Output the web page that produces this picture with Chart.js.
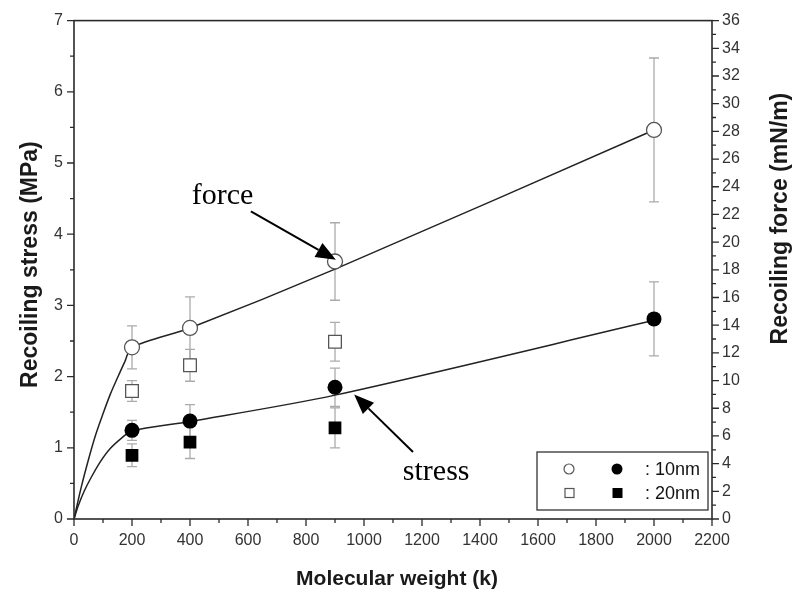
<!DOCTYPE html>
<html>
<head>
<meta charset="utf-8">
<script src="https://cdn.jsdelivr.net/npm/chart.js@4/dist/chart.umd.min.js"></script>
<style>
html,body{margin:0;padding:0;background:#fff;}
#wrap{width:799px;height:594px;position:relative;}
</style>
</head>
<body>
<div id="wrap"><canvas id="c" width="799" height="594"></canvas></div>
<script>
// ---- data ----
const molecularWeight = [200, 400, 900, 2000];          // k
const molecularWeight20 = [200, 400, 900];

// force (mN/m, right axis)
const force10 = [12.4, 13.8, 18.6, 28.1];
const force10Err = [1.55, 2.25, 2.8, 5.2];
const force20 = [9.25, 11.1, 12.8];
const force20Err = [0.75, 1.15, 1.4];

// stress (MPa, left axis)
const stress10 = [1.245, 1.375, 1.85, 2.81];
const stress10Err = [0.14, 0.23, 0.27, 0.52];
const stress20 = [0.895, 1.08, 1.28];
const stress20Err = [0.16, 0.23, 0.28];

// fitted curves
const forceFitX = [0, 25, 50, 75, 100, 125, 150, 175, 200, 400, 900, 2000];
const forceFitY = [0, 2.3, 4.3, 6.1, 7.6, 9.0, 10.2, 11.35, 12.4, 13.8, 18.05, 28.1];
const stressFitX = [0, 15, 35, 60, 90, 125, 165, 200, 400, 900, 2000];
const stressFitY = [0, 0.19, 0.39, 0.59, 0.8, 0.99, 1.14, 1.24, 1.37, 1.74, 2.79];

// axis ticks
const xMax = 2200, xMajor = 200, xMinor = 100;
const yMax = 7, yMajor = 1, yMinor = 0.5;
const y2Max = 36, y2Major = 2, y2Minor = 1;

const xTitle = 'Molecular weight (k)';
const yTitle = 'Recoiling stress (MPa)';
const y2Title = 'Recoiling force (mN/m)';
const legendLabels = [': 10nm', ': 20nm'];
const annotations = [
  {text: 'force', x: 406, y: 4.42, ax0: 610, ay0: 4.32, ax1: 903, ay1: 3.64},
  {text: 'stress', x: 1134, y: 0.545, ax0: 1169, ay0: 0.94, ax1: 966, ay1: 1.75}
];

const pts = (xs, ys) => xs.map((x, i) => ({x: x, y: ys[i]}));

const OPEN_COL = '#555';
const ERR_COL = '#ababab';
const AXIS_COL = '#2a2a2a';

const errPlugin = {
  id: 'errbars',
  beforeDatasetsDraw(chart) {
    const ctx = chart.ctx;
    ctx.save();
    ctx.strokeStyle = ERR_COL;
    ctx.lineWidth = 1.3;
    chart.data.datasets.forEach((ds) => {
      if (!ds.err) return;
      const xs = chart.scales.x;
      const ys = chart.scales[ds.yAxisID];
      ds.data.forEach((p, i) => {
        const e = ds.err[i];
        const px = xs.getPixelForValue(p.x);
        const t = ys.getPixelForValue(p.y + e);
        const b = ys.getPixelForValue(p.y - e);
        ctx.beginPath();
        ctx.moveTo(px, t); ctx.lineTo(px, b);
        ctx.moveTo(px - 5, t); ctx.lineTo(px + 5, t);
        ctx.moveTo(px - 5, b); ctx.lineTo(px + 5, b);
        ctx.stroke();
      });
    });
    ctx.restore();
  }
};

function arrow(ctx, x0, y0, x1, y1) {
  const ang = Math.atan2(y1 - y0, x1 - x0);
  const L = 20, W = 8;
  const bx = x1 - L * Math.cos(ang), by = y1 - L * Math.sin(ang);
  ctx.beginPath();
  ctx.moveTo(x0, y0); ctx.lineTo(bx, by);
  ctx.stroke();
  ctx.beginPath();
  ctx.moveTo(x1, y1);
  ctx.lineTo(bx + W * Math.sin(ang), by - W * Math.cos(ang));
  ctx.lineTo(bx - W * Math.sin(ang), by + W * Math.cos(ang));
  ctx.closePath();
  ctx.fill();
}

const decoPlugin = {
  id: 'deco',
  afterDraw(chart) {
    const ctx = chart.ctx;
    const a = chart.chartArea;
    const xs = chart.scales.x, ys = chart.scales.y, y2 = chart.scales.y2;
    ctx.save();
    // frame
    ctx.strokeStyle = AXIS_COL;
    ctx.lineWidth = 1.6;
    ctx.strokeRect(a.left, a.top, a.right - a.left, a.bottom - a.top);
    // ticks
    ctx.lineWidth = 1.3;
    ctx.beginPath();
    for (let v = 0; v <= xMax + 1e-9; v += xMinor) {
      const px = xs.getPixelForValue(v);
      const len = (Math.abs(v / xMajor - Math.round(v / xMajor)) < 1e-6) ? 7 : 4;
      ctx.moveTo(px, a.bottom); ctx.lineTo(px, a.bottom + len);
    }
    for (let v = 0; v <= yMax + 1e-9; v += yMinor) {
      const py = ys.getPixelForValue(v);
      const len = (Math.abs(v / yMajor - Math.round(v / yMajor)) < 1e-6) ? 7 : 4;
      ctx.moveTo(a.left, py); ctx.lineTo(a.left - len, py);
    }
    for (let v = 0; v <= y2Max + 1e-9; v += y2Minor) {
      const py = y2.getPixelForValue(v);
      const len = (Math.abs(v / y2Major - Math.round(v / y2Major)) < 1e-6) ? 7 : 4;
      ctx.moveTo(a.right, py); ctx.lineTo(a.right + len, py);
    }
    ctx.stroke();

    // axis titles
    ctx.fillStyle = '#1a1a1a';
    ctx.font = 'bold 21px "Liberation Sans", Arial, sans-serif';
    ctx.textAlign = 'center';
    ctx.textBaseline = 'middle';
    ctx.fillText(xTitle, (a.left + a.right) / 2 + 4, a.bottom + 60);
    ctx.font = 'bold 23px "Liberation Sans", Arial, sans-serif';
    ctx.save();
    ctx.translate(a.left - 43, a.top + 244);
    ctx.rotate(-Math.PI / 2);
    ctx.fillText(yTitle, 0, 0);
    ctx.restore();
    ctx.save();
    ctx.translate(a.right + 69, a.top + 198);
    ctx.rotate(-Math.PI / 2);
    ctx.fillText(y2Title, 0, 0);
    ctx.restore();

    // annotations
    ctx.fillStyle = '#000';
    ctx.strokeStyle = '#000';
    ctx.lineWidth = 2;
    ctx.font = '30px "Liberation Serif", "Times New Roman", serif';
    ctx.textAlign = 'left';
    ctx.textBaseline = 'alphabetic';
    annotations.forEach(an => {
      ctx.fillText(an.text, xs.getPixelForValue(an.x), ys.getPixelForValue(an.y));
      arrow(ctx, xs.getPixelForValue(an.ax0), ys.getPixelForValue(an.ay0),
                 xs.getPixelForValue(an.ax1), ys.getPixelForValue(an.ay1));
    });

    // legend box
    const bw = 171, bh = 58;
    const bx = a.right - 4 - bw, by = a.bottom - 9 - bh;
    ctx.fillStyle = '#fff';
    ctx.fillRect(bx, by, bw, bh);
    ctx.strokeStyle = '#333';
    ctx.lineWidth = 1.3;
    ctx.strokeRect(bx, by, bw, bh);
    const r1 = by + 17, r2 = by + 41;
    ctx.strokeStyle = OPEN_COL; ctx.lineWidth = 1.2;
    ctx.beginPath(); ctx.arc(bx + 32, r1, 5, 0, Math.PI * 2); ctx.stroke();
    ctx.fillStyle = '#000';
    ctx.beginPath(); ctx.arc(bx + 80, r1, 5.5, 0, Math.PI * 2); ctx.fill();
    ctx.strokeRect(bx + 28, r2 - 4.5, 9, 9);
    ctx.fillRect(bx + 75.5, r2 - 5, 10, 10);
    ctx.fillStyle = '#111';
    ctx.font = '18px "Liberation Sans", Arial, sans-serif';
    ctx.textBaseline = 'middle';
    ctx.fillText(legendLabels[0], bx + 108, r1 + 1);
    ctx.fillText(legendLabels[1], bx + 108, r2 + 1);
    ctx.restore();
  }
};

const tickFont = {family: '"Liberation Sans", Arial, sans-serif', size: 16};

new Chart(document.getElementById('c'), {
  type: 'scatter',
  data: {
    datasets: [
      {label: 'force 10nm', data: pts(molecularWeight, force10), err: force10Err, yAxisID: 'y2',
       pointStyle: 'circle', pointRadius: 7.5, borderColor: OPEN_COL, backgroundColor: '#fff', borderWidth: 1.3, order: 1},
      {label: 'force 20nm', data: pts(molecularWeight20, force20), err: force20Err, yAxisID: 'y2',
       pointStyle: 'rect', pointRadius: 9, borderColor: OPEN_COL, backgroundColor: '#fff', borderWidth: 1.3, order: 1},
      {label: 'stress 10nm', data: pts(molecularWeight, stress10), err: stress10Err, yAxisID: 'y',
       pointStyle: 'circle', pointRadius: 7.5, borderColor: '#000', backgroundColor: '#000', borderWidth: 0, order: 1},
      {label: 'stress 20nm', data: pts(molecularWeight20, stress20), err: stress20Err, yAxisID: 'y',
       pointStyle: 'rect', pointRadius: 9, borderColor: '#000', backgroundColor: '#000', borderWidth: 0, order: 1},
      {label: 'force fit', type: 'line', data: pts(forceFitX, forceFitY), yAxisID: 'y2', showLine: true,
       pointRadius: 0, borderColor: '#222', borderWidth: 1.5, tension: 0.3, fill: false, order: 2},
      {label: 'stress fit', type: 'line', data: pts(stressFitX, stressFitY), yAxisID: 'y', showLine: true,
       pointRadius: 0, borderColor: '#222', borderWidth: 1.5, tension: 0.3, fill: false, order: 2}
    ]
  },
  options: {
    responsive: false,
    animation: false,
    layout: {padding: {top: 19, left: 0, right: 0, bottom: 0}},
    plugins: {legend: {display: false}, tooltip: {enabled: false}},
    scales: {
      x: {
        type: 'linear', position: 'bottom', min: 0, max: xMax,
        ticks: {stepSize: xMajor, color: '#333', font: tickFont, padding: 12, maxRotation: 0,
                callback: v => String(v)},
        grid: {display: false, drawTicks: false},
        border: {display: false},
        afterFit: s => { s.height = 75; }
      },
      y: {
        type: 'linear', position: 'left', min: 0, max: yMax,
        ticks: {stepSize: yMajor, color: '#333', font: tickFont, padding: 11},
        grid: {display: false, drawTicks: false},
        border: {display: false},
        afterFit: s => { s.width = 74; }
      },
      y2: {
        type: 'linear', position: 'right', min: 0, max: y2Max,
        ticks: {stepSize: y2Major, color: '#333', font: tickFont, padding: 10},
        grid: {display: false, drawTicks: false},
        border: {display: false},
        afterFit: s => { s.width = 87; }
      }
    }
  },
  plugins: [errPlugin, decoPlugin]
});
</script>
</body>
</html>
